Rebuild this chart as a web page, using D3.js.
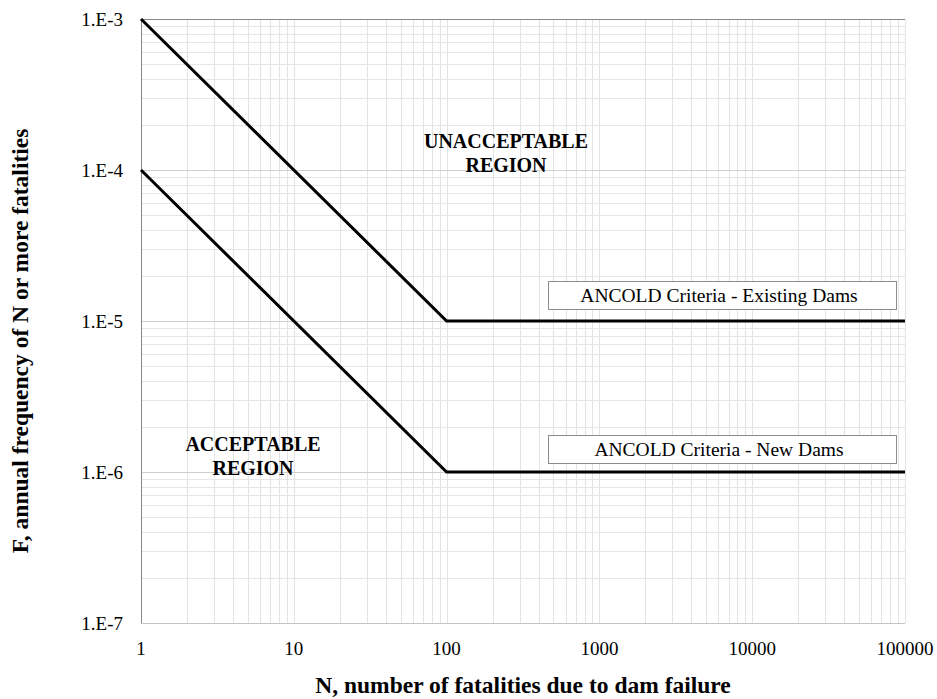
<!DOCTYPE html>
<meta charset="utf-8">
<title>ANCOLD F-N criteria</title>
<style>
body { margin: 0; background: #fff; }
text { font-family: "Liberation Serif", "Times New Roman", serif; fill: #000; }
</style>
<body>
<script src="https://d3js.org/d3.v7.min.js"></script>
<script>

// N values and F values for each criteria line
var existingN = [1, 100, 100000],
    existingF = [1e-3, 1e-5, 1e-5];
var newN = [1, 100, 100000],
    newF = [1e-4, 1e-6, 1e-6];

var xTicks = [1, 10, 100, 1000, 10000, 100000],
    xTickLabels = ["1", "10", "100", "1000", "10000", "100000"];
var yTicks = [1e-7, 1e-6, 1e-5, 1e-4, 1e-3],
    yTickLabels = ["1.E-7", "1.E-6", "1.E-5", "1.E-4", "1.E-3"];

var legendLabels = ["ANCOLD Criteria - Existing Dams", "ANCOLD Criteria - New Dams"];

var svg = d3.select("body")
  .append("svg")
  .attr("width", 937)
  .attr("height", 699);

var pLeft = 141, pRight = 905, pTop = 19, pBottom = 623;

var x = d3.scaleLog()
    .domain([1, 100000])
    .range([pLeft, pRight]);

var y = d3.scaleLog()
    .domain([1e-7, 1e-3])
    .range([pBottom, pTop]);

// minor grid
var minorX = [], minorY = [];
for (var d = 1; d < 100000; d *= 10) {
  for (var k = 2; k <= 9; k++) minorX.push(d * k);
}
for (var e = 1e-7; e < 1e-3 * 0.99; e *= 10) {
  for (var k = 2; k <= 9; k++) minorY.push(e * k);
}

var grid = svg.append("g");

grid.selectAll(".mx")
  .data(minorX.concat(xTicks.slice(1)))
  .enter().append("line")
    .attr("x1", function(d) { return Math.round(x(d)) + 0.5; })
    .attr("x2", function(d) { return Math.round(x(d)) + 0.5; })
    .attr("y1", pTop)
    .attr("y2", pBottom)
    .attr("stroke", "#e3e3e3");

grid.selectAll(".my")
  .data(minorY)
  .enter().append("line")
    .attr("x1", pLeft)
    .attr("x2", pRight)
    .attr("y1", function(d) { return Math.round(y(d)) + 0.5; })
    .attr("y2", function(d) { return Math.round(y(d)) + 0.5; })
    .attr("stroke", "#e6e6e6");

grid.selectAll(".majy")
  .data(yTicks.slice(1, -1))
  .enter().append("line")
    .attr("x1", pLeft)
    .attr("x2", pRight)
    .attr("y1", function(d) { return Math.round(y(d)) + 0.5; })
    .attr("y2", function(d) { return Math.round(y(d)) + 0.5; })
    .attr("stroke", "#cfcfcf");

// frame
svg.append("line")
  .attr("x1", pLeft).attr("x2", pRight)
  .attr("y1", pBottom + 0.5).attr("y2", pBottom + 0.5)
  .attr("stroke", "#c4c4c4");
svg.append("line")
  .attr("x1", pLeft).attr("x2", pRight)
  .attr("y1", pTop + 0.5).attr("y2", pTop + 0.5)
  .attr("stroke", "#888");
svg.append("line")
  .attr("x1", pLeft + 0.5).attr("x2", pLeft + 0.5)
  .attr("y1", pTop).attr("y2", pBottom)
  .attr("stroke", "#888");

// tick labels
svg.selectAll(".xt")
  .data(xTicks)
  .enter().append("text")
    .attr("x", function(d) { return x(d); })
    .attr("y", 655)
    .attr("text-anchor", "middle")
    .style("font-size", "19px")
    .text(function(d, i) { return xTickLabels[i]; });

svg.selectAll(".yt")
  .data(yTicks)
  .enter().append("text")
    .attr("x", 123)
    .attr("y", function(d) { return y(d); })
    .attr("dy", "0.35em")
    .attr("text-anchor", "end")
    .style("font-size", "19px")
    .text(function(d, i) { return yTickLabels[i]; });

// criteria lines
var line = d3.line()
    .x(function(d) { return x(d[0]); })
    .y(function(d) { return y(d[1]); });

[d3.zip(existingN, existingF), d3.zip(newN, newF)].forEach(function(pts) {
  svg.append("path")
    .datum(pts)
    .attr("d", line)
    .attr("fill", "none")
    .attr("stroke", "#000")
    .attr("stroke-width", 3);
});

// labels boxes
var boxes = [
  { label: legendLabels[0], cy: 295 },
  { label: legendLabels[1], cy: 449 }
];
boxes.forEach(function(b) {
  svg.append("rect")
    .attr("x", 548.5)
    .attr("y", b.cy - 14 + 0.5)
    .attr("width", 348)
    .attr("height", 28)
    .attr("fill", "#fff")
    .attr("stroke", "#8c8c8c");
  svg.append("text")
    .attr("x", 719)
    .attr("y", b.cy)
    .attr("dy", "0.35em")
    .attr("text-anchor", "middle")
    .style("font-size", "19.5px")
    .text(b.label);
});

// region labels
function regionLabel(cx, y1, lines) {
  lines.forEach(function(t, i) {
    svg.append("text")
      .attr("x", cx)
      .attr("y", y1 + i * 24)
      .attr("text-anchor", "middle")
      .style("font-size", "20px")
      .style("font-weight", "bold")
      .text(t);
  });
}
regionLabel(506, 148, ["UNACCEPTABLE", "REGION"]);
regionLabel(253, 451, ["ACCEPTABLE", "REGION"]);

// axis titles
svg.append("text")
  .attr("x", 523)
  .attr("y", 693)
  .attr("text-anchor", "middle")
  .style("font-size", "23.5px")
  .style("font-weight", "bold")
  .text("N, number of fatalities due to dam failure");

svg.append("text")
  .attr("transform", "translate(28,341) rotate(-90)")
  .attr("text-anchor", "middle")
  .style("font-size", "23.5px")
  .style("font-weight", "bold")
  .text("F, annual frequency of N or more fatalities");

</script>
</body>
